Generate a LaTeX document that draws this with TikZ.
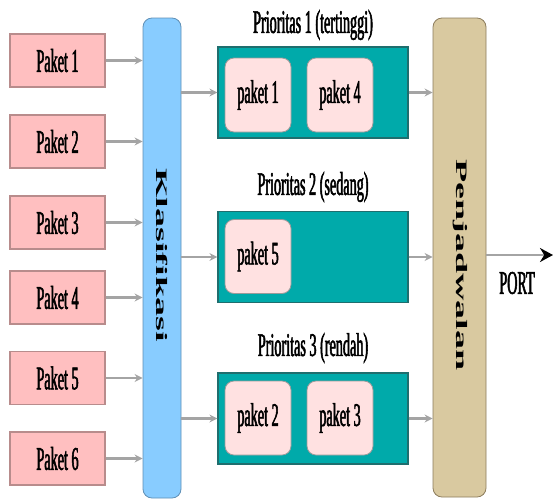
\documentclass[tikz,border=0pt]{standalone}
\usepackage{fontspec}
\setmainfont{Liberation Serif}
\newfontfamily\condfont[FakeStretch=0.43,FakeBold=1.6]{Liberation Serif}
\usetikzlibrary{arrows.meta}
\definecolor{pktfill}{HTML}{FFBFC0}
\definecolor{pktline}{HTML}{B88C8C}
\definecolor{clsfill}{HTML}{88CCFF}
\definecolor{clsline}{HTML}{5F8FB5}
\definecolor{qfill}{HTML}{00AAAA}
\definecolor{qline}{HTML}{1F6E6E}
\definecolor{infill}{HTML}{FFE1E1}
\definecolor{inline}{HTML}{9A9A9A}
\definecolor{schfill}{HTML}{D9C9A0}
\definecolor{schline}{HTML}{8C7C5C}
\definecolor{flow}{HTML}{A4A4A4}
\tikzset{
  lbl/.style={font=\condfont\fontsize{33}{34}\selectfont, inner sep=0pt},
  pktbox/.style={draw=pktline, fill=pktfill, line width=1.2pt,
    minimum width=95pt, minimum height=53pt, lbl},
  clsbar/.style={draw=clsline, fill=clsfill, line width=0.8pt, rounded corners=9pt},
  schbar/.style={draw=schline, fill=schfill, line width=0.8pt, rounded corners=9pt},
  queue/.style={draw=qline, fill=qfill, line width=1.2pt,
    minimum width=190pt, minimum height=91pt},
  inbox/.style={draw=inline, fill=infill, line width=0.8pt, rounded corners=9pt,
    minimum width=66pt, minimum height=74pt, lbl},
  vlabel/.style={rotate=-90, inner sep=0pt,
    font=\bfseries\fontsize{38}{40}\selectfont},
  flowarrow/.style={draw=flow, line width=2.2pt,
    -{Stealth[length=8pt,width=8pt,fill=flow]}},
  portarrow/.style={draw=flow, line width=2.6pt,
    -{Stealth[length=13pt,width=14pt,color=black,fill=black]}}
}
\begin{document}
\begin{tikzpicture}[x=1pt,y=-1pt]
\useasboundingbox (0,0) rectangle (553,499);

% incoming packets
\node[pktbox] (p1) at (57.5,60.5)  {Paket 1};
\node[pktbox] (p2) at (57.5,141.5) {Paket 2};
\node[pktbox] (p3) at (57.5,222.5) {Paket 3};
\node[pktbox] (p4) at (57.5,297.5) {Paket 4};
\node[pktbox] (p5) at (57.5,378)   {Paket 5};
\node[pktbox] (p6) at (57.5,458.5) {Paket 6};

% classifier
\node[clsbar, minimum width=38pt, minimum height=480pt] (cls) at (162,258) {};
\node[vlabel] (clstxt) at (162,255) {\scalebox{1}[0.42]{Klasifikasi}};

% scheduler
\node[schbar, minimum width=53pt, minimum height=479pt] (sch) at (459.5,257.5) {};
\node[vlabel] (schtxt) at (460,265) {\scalebox{1}[0.42]{Penjadwalan}};

% priority queues
\node[queue] (q1) at (313,92.5) {};
\node[queue] (q2) at (313,257)  {};
\node[queue] (q3) at (313,418.5) {};

\node[lbl] (t1) at (313,25)  {Prioritas 1 (tertinggi)};
\node[lbl] (t2) at (313,187) {Prioritas 2 (sedang)};
\node[lbl] (t3) at (313,348) {Prioritas 3 (rendah)};

\node[inbox] (a1) at (258,95)    {paket 1};
\node[inbox] (a4) at (340,95)    {paket 4};
\node[inbox] (b5) at (258,256.5) {paket 5};
\node[inbox] (c2) at (258,418)   {paket 2};
\node[inbox] (c3) at (340,418)   {paket 3};

% packets into the classifier
\foreach \p in {p1,p2,p3,p4,p5,p6}
  \draw[flowarrow] (\p.east) -- (\p.east -| cls.west);

% classifier to queues, queues to scheduler
\foreach \q in {q1,q2,q3}{
  \draw[flowarrow] (\q.west -| cls.east) -- (\q.west);
  \draw[flowarrow] (\q.east) -- (\q.east -| sch.west);
}

% output port
\coordinate (out) at (553,255);
\draw[portarrow] (sch.east |- out) -- (out);
\node[lbl] (port) at (517,283) {PORT};
\end{tikzpicture}
\end{document}
